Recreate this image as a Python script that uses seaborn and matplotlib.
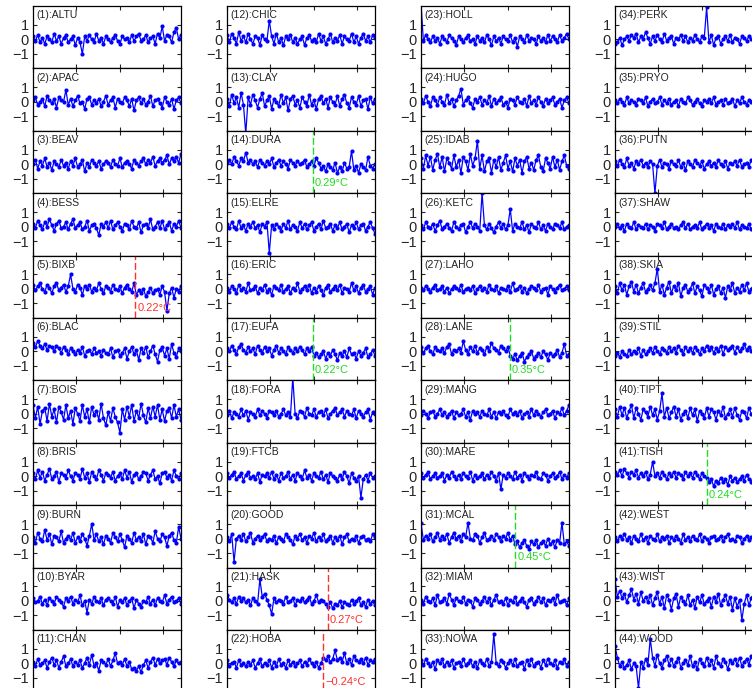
"""
44 panel anomaly series with detected breakpoints.
"""

import numpy as np
import matplotlib.pyplot as plt
import seaborn as sns

stations = ["ALTU", "APAC", "BEAV", "BESS", "BIXB", "BLAC", "BOIS", "BRIS", "BURN", "BYAR", "CHAN",
            "CHIC", "CLAY", "DURA", "ELRE", "ERIC", "EUFA", "FORA", "FTCB", "GOOD", "HASK", "HOBA",
            "HOLL", "HUGO", "IDAB", "KETC", "LAHO", "LANE", "MANG", "MARE", "MCAL", "MIAM", "NOWA",
            "PERK", "PRYO", "PUTN", "SHAW", "SKIA", "STIL", "TIPT", "TISH", "WEST", "WIST", "WOOD"]

# anomalies in tenths of a degree
ALTU = [2,-1,3,-2,1,-3,2,0, -2,4,-1,2,-3,1,3,-2, 0,2,-4,1,-2,-10,2,-1, 3,0,-2,4,-1,1,-3,2, 0,-2,1,3,-1,-3,2,0, 1,-2,3,-1,2,4,-1,0, 3,-2,1,2,-3,4,1,9, -1,3,2,-2,5,8,0,3]
APAC = [1,3,-2,0,2,-3,4,1, -1,2,-4,3,1,0,8,-2, 2,-3,1,4,-1,0,-5,2, 3,-2,1,-1,2,-3,0,4, -2,1,3,-4,2,0,-1,3, 1,-3,2,-6,1,3,-1,2, -2,0,4,-3,1,2,-1,-4, 3,0,-2,2,-5,1,3,-1]
BEAV = [0,3,-3,2,-1,4,-2,1, -4,2,0,-2,3,-1,1,-3, 2,-1,4,-2,0,3,-5,1, -2,3,1,-1,2,-3,0,2, 1,-2,3,0,-1,4,-2,1, 2,0,-3,3,1,-1,2,4, 0,3,1,5,-1,2,4,1, 3,6,0,4,2,5,1,7]
BESS = [2,-1,4,1,-2,3,0,5, 1,-3,2,4,-1,0,3,-2, 2,5,-1,1,3,-2,0,4, -3,1,2,-1,-6,2,0,3, -1,4,-2,1,3,0,-3,2, 1,-2,4,0,-1,3,-4,1, 2,-1,5,-2,0,3,-1,4, -2,1,3,-3,2,0,4,-1]
BIXB = [3,-1,2,4,0,-2,3,1, -3,2,4,-1,1,3,-2,2, 10,0,-2,3,1,-4,2,0, 3,-2,1,-1,4,0,-3,2, 1,-2,3,0,-1,2,-3,1, 3,0,-2,4,-4,-1,-3,0, -5,-2,1,-3,-1,0,-4,2, -2,-15,-3,1,-6,0,-2,2]
BLAC = [6,3,7,4,2,5,1,4, 3,0,4,2,-1,3,1,-2, 2,0,-2,1,-1,3,-3,0, 1,-2,2,-1,0,-3,1,-1, -2,2,-4,0,1,-3,-1,2, -5,0,3,-2,1,-6,2,-1, 3,-4,0,4,-2,-7,1,3, -3,2,-5,5,-1,-4,2,0]
BOIS = [6,-3,5,-7,2,4,-5,7, -2,3,-6,5,1,-4,6,-3, 2,-7,4,0,-5,6,-2,3, -6,5,-1,2,-4,7,-3,-8, 1,-5,4,-2,-6,-13,3,-4, 5,-2,6,-5,2,-3,7,-1, -6,4,-3,5,-2,6,-4,3, -5,2,4,-3,6,-2,3,-4]
BRIS = [2,-2,4,-1,3,-3,1,5, -2,0,3,-4,2,1,-1,4, 0,-3,2,1,-2,5,-1,2, -4,3,0,-2,4,1,-3,2, 1,-1,3,-3,0,2,-2,4, -1,3,-4,1,2,-2,0,3, 2,-3,1,4,-2,0,-5,2, 3,-1,1,-3,4,0,-2,2]
BURN = [1,-3,4,0,-2,6,-1,3, -4,2,1,-2,5,-3,0,2, -1,4,-3,1,-2,3,0,-5, 2,10,-1,3,-2,1,-4,2, 0,-3,4,1,-2,3,-1,-6, 2,0,-3,4,-1,1,-2,3, -4,2,1,-3,5,0,-2,3, 1,-5,2,4,-1,-3,8,0]
BYAR = [2,-1,0,3,-2,1,-3,2, 0,-2,3,1,-1,-4,2,0, 3,-2,1,-1,4,-3,0,-8, 1,-2,3,0,-1,2,-3,1, 2,0,-2,3,-4,1,-1,2, -3,0,2,-5,1,-2,-4,0, -1,3,-2,1,-3,2,0,-1, 4,-2,1,3,-1,0,2,-2]
CHAN = [1,-2,3,-1,0,2,-3,1, 4,-1,2,-3,1,5,-2,0, 3,-2,1,-1,2,-3,0,4, -1,6,-2,0,-5,2,1,-1, 3,-2,2,7,0,1,-1,3, -2,1,-4,-3,-5,-2,-6,-1, 2,-3,1,4,-1,3,0,2, 3,-1,4,1,-2,2,0,1]
CHIC = [3,-2,4,1,-3,5,-1,2, -2,4,0,-3,2,1,-4,3, 0,-1,13,2,-3,4,-2,1, -4,2,0,3,-2,1,-3,0, 2,-4,1,3,-1,0,-2,4, -1,2,-3,0,4,-2,1,-1, 3,-3,2,0,-1,4,-2,2, -3,1,4,-1,2,-2,3,1]
CLAY = [2,-3,5,-1,3,-4,6,-2, -22,3,-2,5,1,-4,2,6, -3,1,4,-5,2,0,-3,5, -1,3,-6,2,4,-2,1,-4, 3,0,-3,5,-2,1,-5,2, 4,-1,2,-4,3,0,-2,4, -3,2,5,-1,-4,3,0,-2, 4,-3,1,2,-5,3,-1,2]
DURA = [1,3,0,5,2,-1,4,2, 8,1,3,0,2,-2,3,1, -1,2,0,4,-2,1,3,-1, 2,0,-3,3,1,-1,2,0, 1,3,-2,0,2,-1,4,1, -3,-1,-5,0,-2,-4,1,-6, -2,-5,1,-3,-2,9,-4,-1, -6,0,-2,-4,5,-1,-3,0]
ELRE = [2,-1,3,0,-2,4,-1,1, -3,2,0,3,-1,1,-4,2, 0,3,-18,1,-2,2,0,-3, 2,-1,4,-2,1,0,-3,3, -1,2,-2,1,3,-3,0,2, -2,4,-1,0,2,-3,1,-1, 3,-2,0,2,-4,1,-1,3, -2,1,2,-3,0,3,-1,-5]
ERIC = [1,-2,2,0,-3,3,-1,1, -2,4,-1,0,2,-3,1,-1, 3,-2,0,-4,2,1,-1,3, -2,0,2,-3,1,-1,4,-2, 0,2,-1,3,-3,1,-2,2, -1,-4,1,3,-2,0,2,-1, 3,-3,1,0,-2,4,-1,2, -3,1,3,-2,0,2,-4,1]
EUFA = [2,0,4,1,-2,3,5,1, -1,3,0,2,-2,4,1,-1, 3,0,2,-3,1,4,-1,2, 0,-2,3,1,-1,2,0,3, 1,-2,2,0,3,-3,-1,-4, -2,0,-5,-1,-3,1,-2,-6, -1,-3,0,-4,2,-2,-1,-5, 0,-3,-1,2,-4,-2,1,-3]
FORA = [-1,2,-3,1,0,-2,3,-1, 2,-4,1,0,-2,3,-1,2, 0,-3,2,1,-1,2,-2,0, 3,-1,1,-2,25,0,-3,2, 1,-2,4,0,-1,3,-2,1, 2,-1,3,-3,0,2,4,-1, 1,3,-2,2,0,-1,3,-3, 2,0,-2,1,3,-4,1,0]
FTCB = [2,-1,1,3,-2,0,2,-3, 1,3,-1,0,-2,2,-4,1, 0,2,-1,3,-2,1,-3,2, -1,0,3,-2,1,-3,2,0, -2,4,-1,1,-3,2,0,-1, 3,-2,1,-4,2,0,-1,-3, 1,-2,3,0,-5,2,-1,-3, 0,-15,-2,1,-3,2,-1,0]
GOOD = [1,-2,3,-16,0,2,-1,3, -2,1,4,-3,0,2,-1,1, 3,-2,0,-1,2,-3,1,0, -2,3,1,-1,-4,2,0,3, -1,1,-3,2,0,4,-2,1, -1,3,-2,0,2,-3,1,-1, 2,-4,1,3,-2,0,-1,2, -3,1,2,-1,0,-2,3,1]
HASK = [4,1,-1,2,-2,3,0,2, -1,1,-3,2,0,-2,15,3, 5,1,-3,-9,2,-1,1,0, -2,3,-1,0,2,-3,1,0, 2,-1,1,3,-2,0,4,-1, 1,0,-2,-4,-1,-5,-2,-3, 0,-4,-1,-2,-3,1,-2,0, 2,-3,-1,-4,1,-2,0,-3]
HOBA = [2,-2,0,1,-3,2,-1,0, -2,1,-1,2,-3,0,3,-2, 0,-1,2,-3,1,-2,3,-1, 0,-3,2,-1,1,-2,0,2, -2,1,-1,3,0,-2,1,-3, 0,4,2,5,1,3,9,2, 4,1,7,0,3,-1,5,2, 1,3,0,4,-1,2,1,3]
HOLL = [25,-1,3,0,-2,2,-1,1, -3,2,0,-2,3,1,-1,-4, 2,0,-2,1,3,-1,0,-3, 2,-1,1,-2,3,0,-4,2, -1,1,-3,2,0,-1,3,-2, 1,-5,2,0,-2,3,-1,1, 0,-3,2,-1,1,-2,3,-1, 2,0,-2,3,-1,1,4,0]
HUGO = [2,-1,4,0,-3,3,1,-2, 3,0,-2,5,-1,2,-3,1, 4,9,-2,1,3,-1,-4,2, 0,3,-2,1,-1,4,-3,2, -1,1,3,-2,0,-4,2,1, -2,3,0,-1,2,-3,4,-1, 1,-2,3,0,-3,2,-1,1, 3,-2,0,2,-4,1,3,-1]
IDAB = [4,-3,6,-1,5,-4,3,7, -2,5,-5,4,1,-3,6,-2, 3,-6,5,2,-4,7,-1,4, 16,-3,6,-5,2,4,-6,3, -2,5,-4,1,6,-3,2,-5, 4,-1,3,-6,2,5,-3,1, -4,3,6,-2,-5,4,1,-3, 5,-2,3,-4,2,6,-1,-3]
KETC = [1,-2,3,0,-1,2,-3,1, 4,-2,0,2,-1,-3,3,0, -2,1,2,-4,0,3,-1,2, 0,-3,23,1,-2,2,-1,-4, 0,3,-1,2,-2,1,12,-3, 2,0,-1,3,-2,1,-4,2, 0,-1,3,-2,1,-3,2,0, -2,2,1,-1,3,-2,0,1]
LAHO = [1,-1,2,0,-2,1,3,-1, 0,2,-2,1,-3,0,2,1, -1,3,-2,0,1,-1,2,-3, 0,2,-1,1,-2,3,0,-1, 2,-3,1,0,-1,2,-2,4, -1,0,2,-2,1,-3,0,2, 1,-1,3,-2,0,1,-4,2, 0,-2,1,3,-1,0,2,-1]
LANE = [3,-1,2,4,0,-2,3,1, 0,2,-1,3,5,-2,1,0, 2,-1,7,1,-2,3,0,4, -1,2,1,-2,3,0,6,2, 1,-1,4,2,0,3,-3,-5, -2,-6,-3,-1,-7,-4,-2,0, -5,-3,-1,-4,0,-2,-6,-1, -3,-2,1,-4,-1,5,-3,-2]
MANG = [-1,2,0,-3,1,2,-2,0, 3,-1,1,-2,0,2,-3,1, -1,0,3,-2,1,-4,2,0, 1,-2,2,0,-1,3,-2,1, -3,1,0,2,-1,-2,3,0, 1,-1,2,-3,0,1,-2,3, -1,2,0,-2,1,3,-1,0, 2,-3,1,0,4,-1,2,6]
MARE = [2,-1,1,3,-2,0,2,-1, 0,2,-3,1,-1,3,0,-2, 1,-2,2,0,-1,3,-3,1, -1,0,2,-2,1,-1,3,0, -3,2,-9,1,-1,2,0,-2, 3,-1,1,-3,2,0,-2,1, 0,3,-1,-2,2,1,-3,0, 2,-1,0,3,-2,1,-1,2]
MCAL = [11,-1,2,0,3,-2,1,4, -1,2,0,3,-3,1,4,0, 2,-2,3,1,11,0,-1,3, 2,-3,1,4,-1,0,2,-1, 3,1,-2,2,0,4,-1,2, -4,-2,-6,-3,-1,-5,-7,-2, -4,-1,-6,-3,-2,-5,0,-4, -2,-6,-1,-3,11,-4,-2,-5]
MIAM = [1,-2,3,0,-1,2,-3,4, -1,0,2,-2,5,1,-3,2, 0,-1,3,-2,1,0,-4,2, 1,-2,0,3,-1,2,-3,1, 4,-1,0,-2,2,-3,1,-1, 3,-2,0,2,-1,-4,1,2, -2,0,3,-1,2,-3,1,0, 2,-2,4,-1,0,1,-3,2]
NOWA = [2,-1,3,0,-2,1,-4,2, 0,3,-2,1,-1,2,-3,0, 1,-2,3,-1,0,2,-2,1, -3,2,0,-1,3,-2,1,20, 0,-2,2,1,-3,0,2,-1, 3,-2,0,1,-4,2,-1,3, -2,0,1,-3,2,-1,3,0, -1,2,-3,1,0,3,-2,1]
PERK = [-3,-2,1,-4,0,2,-1,3, 1,4,-2,2,0,5,1,-3, 2,-1,3,0,-2,4,-1,1, 2,-3,1,0,3,-1,2,-2, 1,-1,3,0,-2,2,1,22, -2,3,-4,1,2,-3,0,2, -1,3,-2,1,0,-3,2,1, -1,2,0,-2,3,1,-1,2]
PRYO = [1,-1,2,0,-2,3,-1,1, 0,-2,2,1,-1,3,-3,0, 2,-1,0,3,-2,1,-1,2, -2,0,1,-3,2,0,-1,3, 1,-2,0,2,-1,-3,1,0, 2,-1,3,-2,0,1,-2,2, -1,0,2,-3,1,-1,3,0, -2,1,0,2,-1,3,-2,1]
PUTN = [2,-1,3,0,-2,4,-1,1, -3,2,0,3,-1,1,-2,2, 0,-20,-1,3,-2,1,0,-3, 2,0,-1,3,-2,1,-4,2, 0,-2,3,1,-1,2,-3,0, 2,-1,1,-2,3,0,-1,2, -3,1,0,2,-1,3,-2,0, 1,-2,3,-1,0,2,-1,1]
SHAW = [0,2,-1,1,-3,2,0,-1, 3,-2,1,0,-1,2,-2,1, 0,-3,2,1,-1,3,-2,0, 2,-1,0,-2,1,3,-1,2, -2,0,1,-1,3,-2,0,2, -1,1,-3,2,0,-1,2,-2, 1,0,2,-1,3,-2,1,0, -1,2,-2,1,0,-1,3,0]
SKIA = [2,-3,4,-1,3,-4,2,5, -2,3,-3,1,4,-2,0,3, -1,4,14,-2,3,-4,1,5, -3,2,-1,4,-5,1,3,-2, 0,4,-3,2,-1,-5,3,1, -2,3,-4,0,2,-3,1,-6, 2,-1,4,-3,1,-2,3,-1, 4,-2,0,3,-3,1,2,-1]
STIL = [-3,-1,-4,0,-2,-3,1,-2, 0,-1,2,-3,1,-2,0,2, -1,3,0,-2,2,1,-1,3, 0,2,-1,4,1,-2,3,0, 2,-1,3,1,-2,2,0,4, 1,3,-1,2,0,4,-2,3, 1,2,4,-1,3,0,2,5, 1,3,0,4,2,-1,3,1]
TIPT = [3,-2,5,-1,4,-3,2,6, -3,4,0,-4,3,1,-2,5, -1,3,-4,2,14,-2,4,-3, 1,5,-2,3,-4,0,2,-3, 4,-1,3,-5,2,0,-3,4, -2,3,1,-4,2,-1,5,-3, 0,3,-2,4,-1,-4,2,1, -3,4,0,-2,3,-1,2,-4]
TISH = [3,1,4,0,5,2,-1,3, 1,4,-1,2,0,3,-2,1, 10,0,2,-1,3,1,-2,2, 0,3,-1,2,1,-2,3,0, 2,-1,3,1,-2,2,0,-1, -4,-2,-7,-3,-5,-1,-4,-2, -6,0,-3,-1,-4,-2,0,-3, 1,-2,-4,0,-1,2,-3,-1]
WEST = [1,-2,2,0,3,-1,1,-3, 2,0,-2,3,-1,1,-3,2, 0,-1,3,-2,1,0,2,-3, 1,-1,2,0,-3,3,-1,1, -2,2,0,-1,3,-2,1,0, -3,1,2,-1,0,2,-2,1, 3,-1,0,-2,2,1,-3,0, 2,-1,1,-2,0,3,-1,2]
WIST = [15,3,7,2,5,-1,4,8, 1,5,-2,6,0,3,-1,4, -3,2,6,-2,3,-5,4,1, -6,2,5,-4,3,0,-2,4, -3,1,-5,3,-1,4,-2,0, 2,-4,3,-1,5,-3,1,4, -2,3,-6,2,-4,1,-13,-2, 4,-3,2,5,-1,3,-2,6]
WOOD = [12,4,-2,1,-3,-1,2,-4, 0,-2,-17,1,-3,3,-1,17, 4,-2,6,0,-3,2,5,-1, 3,-2,1,4,-3,0,2,-1, 5,-2,1,-4,3,0,-2,4, -1,2,-3,5,0,-2,3,1, -4,2,0,3,-1,4,-2,1, 3,-1,5,0,-2,2,4,1]

series = [ALTU, APAC, BEAV, BESS, BIXB, BLAC, BOIS, BRIS, BURN, BYAR, CHAN,
          CHIC, CLAY, DURA, ELRE, ERIC, EUFA, FORA, FTCB, GOOD, HASK, HOBA,
          HOLL, HUGO, IDAB, KETC, LAHO, LANE, MANG, MARE, MCAL, MIAM, NOWA,
          PERK, PRYO, PUTN, SHAW, SKIA, STIL, TIPT, TISH, WEST, WIST, WOOD]

# breakpoints: station number, position (fraction of record), shift size
break_ids = [5, 14, 17, 21, 22, 28, 31, 41]
break_pos = [0.69, 0.58, 0.58, 0.68, 0.65, 0.60, 0.635, 0.62]
break_size = ["0.22", "0.29", "0.22", "0.27", "\u22120.24", "0.35", "0.45", "0.24"]
break_color = ["#ff3030", "#22dd22", "#22dd22", "#ff3030", "#ff3030", "#22dd22", "#22dd22", "#22dd22"]

sns.set_theme(style="ticks")
plt.rcParams["font.family"] = ["Liberation Sans", "DejaVu Sans"]

W, H = 752, 688
fig = plt.figure(figsize=(W / 100, H / 100), dpi=100)

col_left = [33, 227, 421, 615]
pw, ph = 148, 62.4
top0 = 6

for i, (name, vals) in enumerate(zip(stations, series)):
    col, row = divmod(i, 11)
    left = col_left[col]
    top = top0 + row * ph
    ax = fig.add_axes([left / W, 1 - (top + ph) / H, pw / W, ph / H])

    y = np.array(vals) / 10.0
    x = np.linspace(0, 1, len(y))
    sns.lineplot(x=x, y=y, ax=ax, color="blue", linewidth=0.9, marker="o",
                 markersize=3, markeredgewidth=0, legend=False)

    n = i + 1
    if n in break_ids:
        k = break_ids.index(n)
        c = break_color[k]
        ax.axvline(break_pos[k], color=c, linestyle=(0, (5, 2)), linewidth=1)
        ax.text(break_pos[k] + 0.015, -1.3, f"{break_size[k]}\u00b0C", color=c,
                fontsize=8, ha="left", va="center")

    ax.text(0.02, 0.93, f"({n}):{name}", transform=ax.transAxes, fontsize=7.5,
            color="#222222", ha="left", va="top")

    ax.set_xlim(0, 1)
    ax.set_ylim(-2.0, 2.3)
    ax.set_yticks([-1, 0, 1])
    ax.set_xticks([0, 0.293, 0.586, 0.879])
    ax.set_xticklabels([])
    ax.set_xlabel("")
    ax.set_ylabel("")
    ax.tick_params(axis="both", direction="in", length=3, width=0.8,
                   top=True, right=True, labelsize=10.5, pad=3)
    for s in ax.spines.values():
        s.set_linewidth(0.9)
        s.set_color("black")

plt.savefig("out.png", dpi=100)
plt.close()
